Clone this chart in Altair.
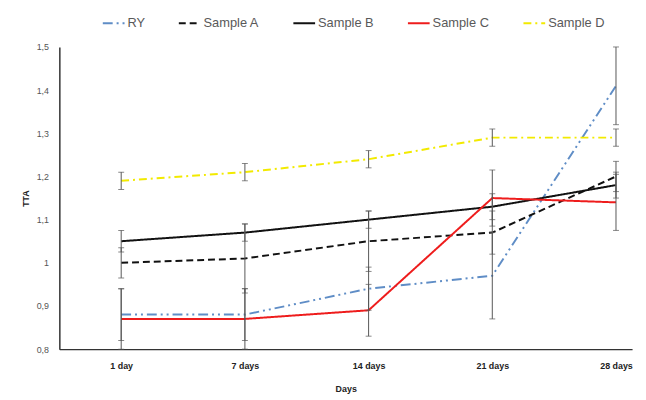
import altair as alt
import pandas as pd

days = ["1 day", "7 days", "14 days", "21 days", "28 days"]
series = ["RY", "Sample A", "Sample B", "Sample C", "Sample D"]
ry = [0.88, 0.88, 0.94, 0.97, 1.41]
sample_a = [1.00, 1.01, 1.05, 1.07, 1.20]
sample_b = [1.05, 1.07, 1.10, 1.13, 1.18]
sample_c = [0.87, 0.87, 0.89, 1.15, 1.14]
sample_d = [1.19, 1.21, 1.24, 1.29, 1.29]
err_ry = [0.06, 0.06, 0.05, 0.10, 0.09]
err_a = [0.035, 0.08, 0.07, 0.05, 0.035]
err_b = [0.025, 0.02, 0.02, 0.03, 0.03]
err_c = [0.07, 0.07, 0.06, 0.065, 0.065]
err_d = [0.02, 0.02, 0.02, 0.02, 0.02]

colors = ["#5f8dc6", "#111111", "#111111", "#ee1c1c", "#f2ea00"]
dashes = [[10, 4, 2, 4, 2, 4], [7, 4], [1, 0], [1, 0], [8, 4, 2, 4]]

vals = [ry, sample_a, sample_b, sample_c, sample_d]
errs = [err_ry, err_a, err_b, err_c, err_d]
rows = []
for s, v, e in zip(series, vals, errs):
    for i, (dy, val, er) in enumerate(zip(days, v, e)):
        rows.append({"series": s, "idx": i, "day": dy, "tta": val,
                     "lo": val - er, "hi": val + er})
df = pd.DataFrame(rows)

label_expr = "[" + ",".join("'%s'" % d for d in days) + "][datum.value]"

x = alt.X("idx:Q", scale=alt.Scale(domain=[-0.5, 4.13], nice=False, zero=False),
          axis=alt.Axis(values=list(range(len(days))), labelExpr=label_expr,
                        title="Days", grid=False, ticks=False,
                        labelFont="Liberation Sans", labelFontSize=9, labelFontWeight="bold",
                        labelColor="#222", labelPadding=13,
                        titleFont="Liberation Sans", titleFontSize=9, titleFontWeight="bold",
                        titleColor="#222", titlePadding=14,
                        domainColor="#333", domainWidth=1.5))
yscale = alt.Scale(domain=[0.8, 1.5], nice=False, zero=False)
y = alt.Y("tta:Q", scale=yscale,
          axis=alt.Axis(values=[0.8, 0.9, 1.0, 1.1, 1.2, 1.3, 1.4, 1.5],
                        labelExpr="replace(format(datum.value, '.1~f'), '.', ',')",
                        title="TTA", grid=False, ticks=False,
                        labelFont="Liberation Sans", labelFontSize=9, labelColor="#555",
                        labelPadding=11,
                        titleFont="Liberation Sans", titleFontSize=9, titleFontWeight="bold",
                        titleColor="#222", titlePadding=6,
                        domainColor="#333", domainWidth=1.5))

base = alt.Chart(df)

rules = base.mark_rule(color="#555", strokeWidth=1).encode(
    x="idx:Q", y=alt.Y("lo:Q", scale=yscale), y2="hi:Q")
cap_lo = base.mark_tick(color="#555", orient="horizontal", size=6, thickness=1).encode(
    x="idx:Q", y=alt.Y("lo:Q", scale=yscale))
cap_hi = base.mark_tick(color="#555", orient="horizontal", size=6, thickness=1).encode(
    x="idx:Q", y=alt.Y("hi:Q", scale=yscale))

lines = base.mark_line(strokeWidth=2).encode(
    x=x, y=y,
    color=alt.Color("series:N", scale=alt.Scale(domain=series, range=colors),
                    legend=alt.Legend(title=None, orient="none", direction="horizontal",
                                      columns=5, legendX=43, legendY=-36,
                                      symbolType="stroke", symbolSize=484,
                                      symbolStrokeWidth=2, columnPadding=30,
                                      labelFont="Liberation Sans", labelFontSize=13,
                                      labelColor="#595959", labelOffset=2)),
    strokeDash=alt.StrokeDash("series:N", scale=alt.Scale(domain=series, range=dashes)),
    order="idx:Q",
)

chart = alt.layer(lines, rules, cap_lo, cap_hi).properties(
    width=580, height=306,
    autosize=alt.AutoSizeParams(type="none"),
    padding={"left": 52, "top": 37, "right": 6, "bottom": 45},
).configure_view(stroke=None)

chart.save("out.html", embed_options={"renderer": "svg", "actions": False})
